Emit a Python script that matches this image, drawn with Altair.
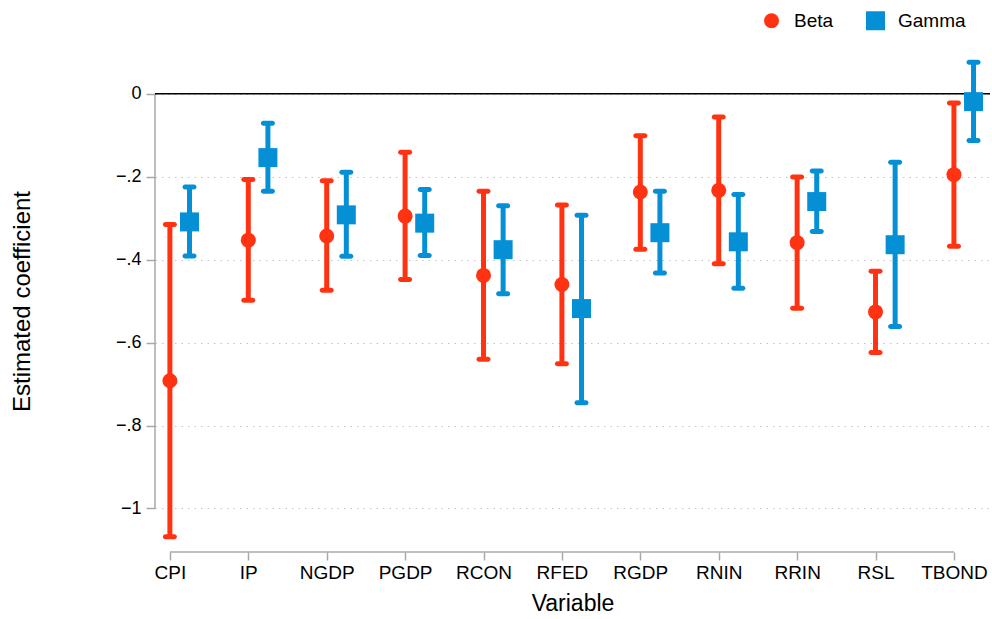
import json
import altair as alt
import pandas as pd

# Estimated coefficients and 95% confidence bounds by forecast variable
categories = ["CPI", "IP", "NGDP", "PGDP", "RCON", "RFED", "RGDP", "RNIN", "RRIN", "RSL", "TBOND"]

beta_est = [-0.692, -0.353, -0.343, -0.295, -0.438, -0.460, -0.237, -0.233, -0.359, -0.526, -0.195]
beta_lo = [-1.068, -0.498, -0.474, -0.448, -0.640, -0.651, -0.375, -0.410, -0.517, -0.624, -0.368]
beta_hi = [-0.315, -0.207, -0.210, -0.141, -0.235, -0.268, -0.101, -0.056, -0.201, -0.428, -0.022]

gamma_est = [-0.309, -0.154, -0.292, -0.312, -0.376, -0.518, -0.335, -0.357, -0.260, -0.364, -0.019]
gamma_lo = [-0.391, -0.235, -0.392, -0.390, -0.482, -0.745, -0.432, -0.469, -0.332, -0.561, -0.113]
gamma_hi = [-0.225, -0.071, -0.189, -0.231, -0.270, -0.293, -0.235, -0.243, -0.186, -0.165, 0.076]

series_names = ["Beta", "Gamma"]
series_colors = ["#ff3311", "#0590d6"]
series_shapes = ["circle", "square"]
series_sizes = [225, 361]

y_ticks = [0, -0.2, -0.4, -0.6, -0.8, -1]

rows = []
for name, est, lo, hi in [
    ("Beta", beta_est, beta_lo, beta_hi),
    ("Gamma", gamma_est, gamma_lo, gamma_hi),
]:
    for cat, e, l, h in zip(categories, est, lo, hi):
        rows.append({"variable": cat, "series": name, "estimate": e, "lower": l, "upper": h})
df = pd.DataFrame(rows)

FONT = "Liberation Sans"
GRAY = "#a8a8a8"

cat_js = json.dumps(categories)

x_scale = alt.Scale(domain=[-0.19, 10.46], nice=False, zero=False)
y_scale = alt.Scale(domain=[-1.105, 0.12], nice=False, zero=False)

x_axis = alt.Axis(
    values=list(range(len(categories))),
    labelExpr=f"{cat_js}[datum.value]",
    domain=False,
    grid=False,
    tickSize=8,
    tickColor=GRAY,
    tickWidth=1.5,
    labelPadding=3,
    labelFontSize=19,
    labelColor="black",
    labelFont=FONT,
    title="Variable",
    titleFont=FONT,
    titleFontSize=23,
    titleFontWeight="normal",
    titleColor="black",
    titlePadding=10,
)

y_axis = alt.Axis(
    values=y_ticks,
    labelExpr="datum.value == 0 ? '0' : replace(format(datum.value, '~g'), '0.', '.')",
    domain=False,
    grid=True,
    gridDash=[1.5, 5],
    gridColor="#c4c4c4",
    gridWidth=1.2,
    tickSize=9,
    tickColor=GRAY,
    tickWidth=1.5,
    labelPadding=5,
    labelFontSize=18,
    labelColor="black",
    labelFont=FONT,
    title="Estimated coefficient",
    titleFont=FONT,
    titleFontSize=24,
    titleFontWeight="normal",
    titleColor="black",
    titleAngle=270,
    titleAlign="center",
    titleBaseline="middle",
    titleX=-133,
    titleY=257,
)

base = alt.Chart(df).transform_calculate(
    pos=f"indexof({cat_js}, datum.variable) + (datum.series == 'Gamma' ? 0.25 : 0)"
)

legend = alt.Legend(
    title=None,
    orient="none",
    direction="horizontal",
    legendX=607,
    legendY=-33,
    labelFont=FONT,
    labelFontSize=19,
    labelColor="black",
    symbolOpacity=1,
    symbolStrokeWidth=0,
    columnPadding=32,
    labelOffset=13,
)

color = alt.Color(
    "series:N",
    scale=alt.Scale(domain=series_names, range=series_colors),
    legend=legend,
)
shape = alt.Shape(
    "series:N",
    scale=alt.Scale(domain=series_names, range=series_shapes),
    legend=legend,
)
size = alt.Size(
    "series:N",
    scale=alt.Scale(domain=series_names, range=series_sizes),
    legend=legend,
)

# Axis lines that span only the labelled ranges
y_line = alt.Chart(pd.DataFrame({"a": [0], "b": [-1]})).mark_rule(
    color=GRAY, strokeWidth=1.5
).encode(
    x=alt.value(0),
    y=alt.Y("a:Q", scale=y_scale, axis=y_axis),
    y2="b:Q",
)

x_line = alt.Chart(pd.DataFrame({"a": [0], "b": [len(categories) - 1]})).mark_rule(
    color=GRAY, strokeWidth=1.5
).encode(
    y=alt.value(508),
    x=alt.X("a:Q", scale=x_scale, axis=x_axis),
    x2="b:Q",
)

zero_line = alt.Chart(pd.DataFrame({"z": [0]})).mark_rule(
    color="black", strokeWidth=1.6
).encode(
    y=alt.Y("z:Q", scale=y_scale),
    x=alt.value(0),
    x2=alt.value(835),
)

bars = base.mark_rule(strokeWidth=5).encode(
    x=alt.X("pos:Q", scale=x_scale),
    y=alt.Y("lower:Q", scale=y_scale),
    y2="upper:Q",
    color=color,
)

caps_lo = base.mark_tick(orient="horizontal", size=14, thickness=5, cornerRadius=2.5, opacity=1).encode(
    x=alt.X("pos:Q", scale=x_scale),
    y=alt.Y("lower:Q", scale=y_scale),
    color=color,
)
caps_hi = base.mark_tick(orient="horizontal", size=14, thickness=5, cornerRadius=2.5, opacity=1).encode(
    x=alt.X("pos:Q", scale=x_scale),
    y=alt.Y("upper:Q", scale=y_scale),
    color=color,
)

points = base.mark_point(filled=True, opacity=1, strokeWidth=0).encode(
    x=alt.X("pos:Q", scale=x_scale),
    y=alt.Y("estimate:Q", scale=y_scale),
    color=color,
    shape=shape,
    size=size,
)

chart = alt.layer(
    y_line, x_line, zero_line, bars, caps_lo, caps_hi, points
).properties(
    width=835,
    height=508,
    padding={"left": 155, "top": 44, "right": 2, "bottom": 67},
    autosize=alt.AutoSizeParams(type="none"),
    background="white",
).configure_view(
    stroke=None
)

chart.save("out.html", embed_options={"renderer": "svg", "actions": False})
